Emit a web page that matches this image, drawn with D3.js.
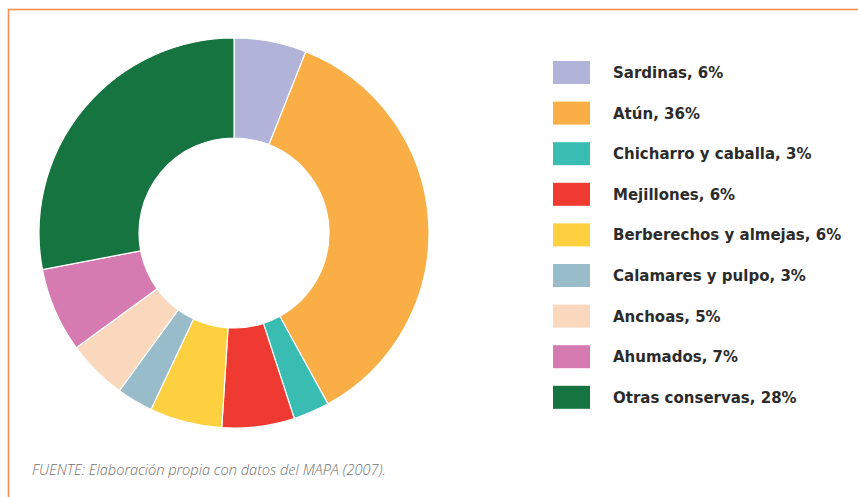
<!DOCTYPE html>
<html>
<head>
<meta charset="utf-8">
<script src="https://cdn.jsdelivr.net/npm/d3@7"></script>
<style>
  body { margin: 0; background: #fff; }
  svg { display: block; }
</style>
</head>
<body>
<svg id="chart" width="858" height="497"></svg>
<script>
// data
const categories = ["Sardinas", "Atún", "Chicharro y caballa", "Mejillones",
  "Berberechos y almejas", "Calamares y pulpo", "Anchoas", "Ahumados", "Otras conservas"];
const shares = [6, 36, 3, 6, 6, 3, 5, 7, 28];
const colors = ["#b1b3d9", "#f9ae46", "#39bdb3", "#ee3a31", "#fdd03f",
  "#99bccb", "#f9d8bd", "#d57bb2", "#167441"];
const source = "FUENTE: Elaboración propia con datos del MAPA (2007).";

const rows = categories.map((c, i) => ({ name: c, value: shares[i], color: colors[i] }));

const svg = d3.select("#chart");

// orange frame, runs off the right and bottom edges
svg.append("rect")
  .attr("x", 8.5).attr("y", 9.5)
  .attr("width", 900).attr("height", 600)
  .attr("fill", "none")
  .attr("stroke", "#f4914f")
  .attr("stroke-width", 1.6);

// donut
const cx = 234, cy = 233;
const pie = d3.pie().sort(null).value(d => d.value);
const arc = d3.arc().innerRadius(95).outerRadius(195);

svg.append("g")
  .attr("transform", `translate(${cx},${cy})`)
  .selectAll("path")
  .data(pie(rows))
  .join("path")
  .attr("d", arc)
  .attr("fill", d => d.data.color)
  .attr("stroke", "#fff")
  .attr("stroke-width", 1.2);

// legend
const y = d3.scaleBand()
  .domain(categories)
  .range([61, 61 + 40.6 * categories.length])
  .paddingInner(0);

const legend = svg.append("g")
  .selectAll("g")
  .data(rows)
  .join("g")
  .attr("transform", d => `translate(553,${y(d.name)})`);

legend.append("rect")
  .attr("width", 37).attr("height", 23)
  .attr("fill", d => d.color);

legend.append("text")
  .attr("x", 60).attr("y", 17)
  .attr("font-family", "'DejaVu Sans', sans-serif")
  .attr("font-weight", "bold")
  .attr("font-size", 15)
  .attr("fill", "#2b2b2b")
  .text(d => `${d.name}, ${d.value}%`);

// source note
svg.append("text")
  .attr("x", 32).attr("y", 475)
  .attr("font-family", "'Open Sans', sans-serif")
  .attr("font-style", "italic")
  .attr("font-weight", 300)
  .attr("font-size", 14.6)
  .attr("fill", "#6f6f6f")
  .text(source);
</script>
</body>
</html>
